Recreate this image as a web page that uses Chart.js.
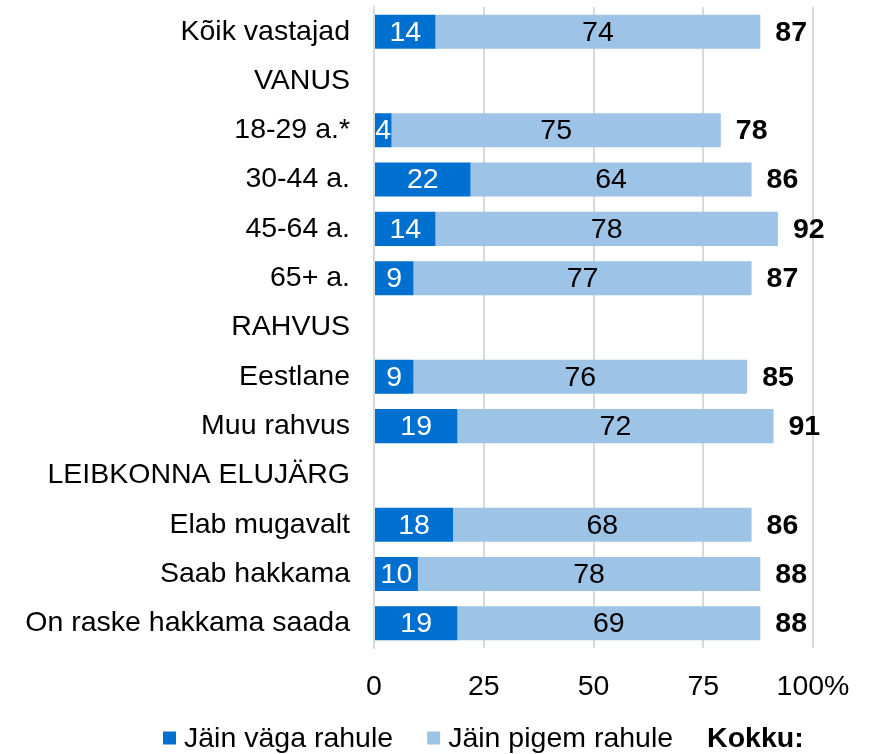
<!DOCTYPE html>
<html><head><meta charset="utf-8">
<script src="https://cdn.jsdelivr.net/npm/chart.js@4.4.1/dist/chart.umd.min.js"></script>
<style>html,body{margin:0;padding:0;background:#fff;overflow:hidden}</style>
</head><body>
<canvas id="c" width="881" height="754"></canvas>
<script>
const categories = ['Kõik vastajad','VANUS','18-29 a.*','30-44 a.','45-64 a.','65+ a.','RAHVUS','Eestlane','Muu rahvus','LEIBKONNA ELUJÄRG','Elab mugavalt','Saab hakkama','On raske hakkama saada'];
const veryPleased = [14,null,4,22,14,9,null,9,19,null,18,10,19];
const ratherPleased = [74,null,75,64,78,77,null,76,72,null,68,78,69];
const totals = [87,null,78,86,92,87,null,85,91,null,86,88,88];
const xTickValues = [0,25,50,75,100];
const seriesNames = ['Jäin väga rahule','Jäin pigem rahule'];
const totalName = 'Kokku:';

const FONT = "'Liberation Sans', Arial, sans-serif";
const FS = 28.5;
const DARK = '#0070d0';
const LIGHT = '#9dc3e6';

const labelsPlugin = {
  id: 'barLabels',
  afterDatasetsDraw(chart) {
    const ctx = chart.ctx;
    ctx.save();
    ctx.textBaseline = 'middle';
    chart.data.datasets.forEach((ds, di) => {
      const meta = chart.getDatasetMeta(di);
      meta.data.forEach((el, i) => {
        const v = ds.data[i];
        if (v === null || v === undefined) return;
        const p = el.getProps(['x','y','base'], true);
        ctx.font = FS + 'px ' + FONT;
        ctx.textAlign = 'center';
        ctx.fillStyle = di === 0 ? '#ffffff' : '#000000';
        ctx.fillText(String(v), (p.x + p.base) / 2, p.y + 1);
        if (di === chart.data.datasets.length - 1 && totals[i] !== null) {
          ctx.font = 'bold ' + FS + 'px ' + FONT;
          ctx.textAlign = 'left';
          ctx.fillStyle = '#000000';
          ctx.fillText(String(totals[i]), p.x + 15, p.y + 1);
        }
      });
    });
    ctx.restore();
  }
};

const legendPlugin = {
  id: 'customLegend',
  afterDraw(chart) {
    const ctx = chart.ctx;
    ctx.save();
    const y = 738;
    let x = 163;
    const box = 13;
    ctx.textBaseline = 'middle';
    ctx.textAlign = 'left';
    chart.data.datasets.forEach((ds) => {
      ctx.fillStyle = ds.backgroundColor;
      ctx.fillRect(x, y - box / 2, box, box);
      x += box + 8;
      ctx.font = FS + 'px ' + FONT;
      ctx.fillStyle = '#000';
      ctx.fillText(ds.label, x, y + 1);
      x += ctx.measureText(ds.label).width + 34;
    });
    ctx.font = 'bold ' + FS + 'px ' + FONT;
    ctx.fillStyle = '#000';
    ctx.fillText(totalName, x, y + 1);
    ctx.restore();
  }
};

new Chart(document.getElementById('c'), {
  type: 'bar',
  data: {
    labels: categories,
    datasets: [
      { label: seriesNames[0], data: veryPleased, backgroundColor: DARK },
      { label: seriesNames[1], data: ratherPleased, backgroundColor: LIGHT }
    ]
  },
  options: {
    indexAxis: 'y',
    responsive: false,
    animation: false,
    devicePixelRatio: 1,
    layout: { padding: { top: 7, right: 68, bottom: 0, left: 0 } },
    datasets: { bar: { categoryPercentage: 1, barPercentage: 0.69 } },
    plugins: { legend: { display: false }, tooltip: { enabled: false } },
    scales: {
      x: {
        stacked: true,
        min: 0, max: 100,
        afterBuildTicks(scale) { scale.ticks = xTickValues.map(v => ({ value: v })); },
        afterFit(scale) { scale.height = 106; scale.paddingLeft = 0; scale.paddingRight = 0; },
        grid: { color: '#d9d9d9', lineWidth: 2, drawTicks: false },
        border: { display: false },
        ticks: {
          padding: 22,
          color: '#000',
          font: { family: FONT, size: FS },
          callback: (v) => v === 100 ? '100%' : String(v)
        }
      },
      y: {
        stacked: true,
        afterFit(scale) { scale.width = 374; scale.paddingTop = 0; scale.paddingBottom = 0; },
        grid: { display: false, drawTicks: false },
        border: { display: true, color: '#d9d9d9', width: 2 },
        ticks: {
          padding: 24,
          color: '#000',
          font: { family: FONT, size: FS }
        }
      }
    }
  },
  plugins: [labelsPlugin, legendPlugin]
});
</script>
</body></html>
